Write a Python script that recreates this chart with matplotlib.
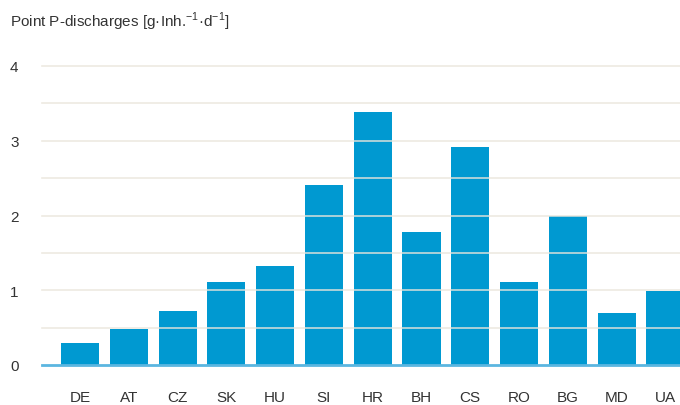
import matplotlib.pyplot as plt
from matplotlib import font_manager

countries = ["DE", "AT", "CZ", "SK", "HU", "SI", "HR", "BH", "CS", "RO", "BG", "MD", "UA"]
p_discharges = [0.29, 0.48, 0.72, 1.11, 1.32, 2.41, 3.38, 1.78, 2.92, 1.11, 1.99, 0.70, 0.99]
y_ticks = [0, 1, 2, 3, 4]
grid_levels = [0.5, 1, 1.5, 2, 2.5, 3, 3.5, 4]

BAR_COLOR = "#0099d1"
GRID_COLOR = "#ebe6dc"
TEXT_COLOR = "#333333"

names = {f.name for f in font_manager.fontManager.ttflist}
family = ["Liberation Sans Narrow", "DejaVu Sans"] if "Liberation Sans Narrow" in names else ["Liberation Sans", "DejaVu Sans"]
plt.rcParams["font.family"] = family

fig = plt.figure(figsize=(6.8, 4.06), dpi=100)
ax = fig.add_axes([42 / 680, 40 / 406, 1 - 42 / 680, 299 / 406])

x = list(range(len(countries)))
ax.bar(x, p_discharges, width=0.78, color=BAR_COLOR, zorder=2)

for level in grid_levels:
    ax.axhline(level, color=GRID_COLOR, linewidth=1.2, alpha=0.85, zorder=3, clip_on=False)
ax.axhline(0, color="#5bb6e0", linewidth=2.0, zorder=4, clip_on=False)

ax.set_xlim(-0.78, 12.3)
ax.set_ylim(0, 4)
ax.set_xticks(x)
ax.set_xticklabels(countries, fontsize=11, color=TEXT_COLOR)
ax.set_yticks(y_ticks)
ax.set_yticklabels([str(v) for v in y_ticks], fontsize=11, color=TEXT_COLOR)
for lab in ax.get_yticklabels():
    lab.set_horizontalalignment("left")
ax.tick_params(axis="y", length=0, pad=23)
ax.tick_params(axis="x", length=0, pad=18)
for spine in ax.spines.values():
    spine.set_visible(False)

fig.text(10 / 680, 1 - 22 / 406,
         r"Point P-discharges [g·Inh.$^{\mathregular{-1}}$·d$^{\mathregular{-1}}$]",
         fontsize=11, color=TEXT_COLOR, ha="left", va="center")

fig.savefig("out.png", dpi=100)
